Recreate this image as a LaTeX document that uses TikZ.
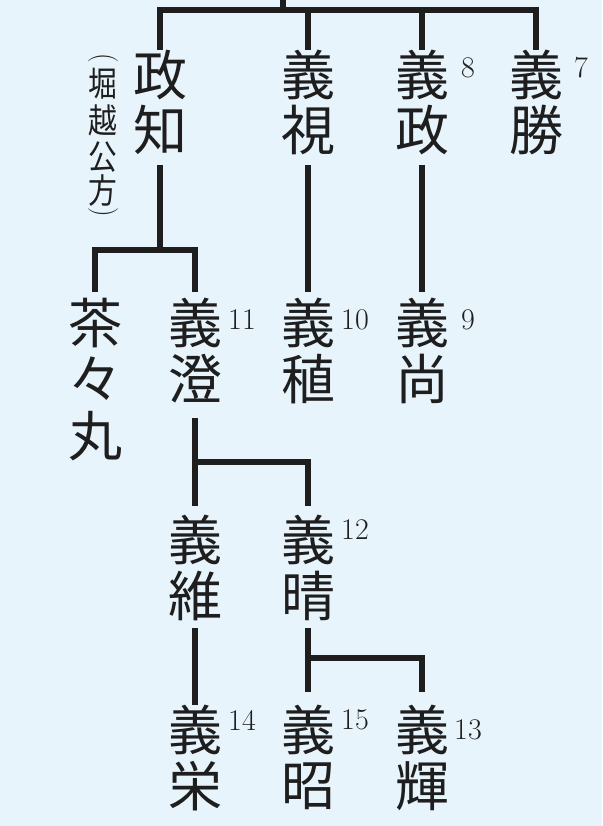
\documentclass[tikz,border=0pt]{standalone}
\usepackage{fontspec}
\newfontfamily\jp{Noto Sans CJK JP}
\definecolor{bg}{HTML}{E8F4FC}
\definecolor{ln}{HTML}{1E1E1E}
\begin{document}
\begin{tikzpicture}[x=1pt,y=-1pt,
  ch/.style={font=\jp\fontsize{54}{54}\selectfont,text=ln,inner sep=0pt},
  sm/.style={font=\jp\fontsize{36}{36}\selectfont,text=ln,inner sep=0pt,xscale=0.8,yscale=0.95,transform shape},
  pr/.style={font=\fontsize{30}{30}\selectfont,text=ln,inner sep=0pt,rotate=-90,xscale=0.9,transform shape},
  num/.style={font=\fontsize{30}{30}\selectfont,text=ln,inner sep=0pt},
  tree/.style={draw=ln,line width=6pt}]
\fill[bg] (0,0) rectangle (602,826);
\useasboundingbox (0,0) rectangle (602,826);
% top row
\coordinate (top) at (283,0);
\coordinate (h1) at (283,10);
\draw[tree] (top) -- (h1);
\draw[tree] (157,10) -- (539,10);
\node[ch] (a1) at (160,75) {政}; \node[ch] (a2) at (160,130) {知};
\node[ch] (b1) at (308,75) {義}; \node[ch] (b2) at (308,130) {視};
\node[ch] (c1) at (422,75) {義}; \node[ch] (c2) at (422,130) {政};
\node[ch] (d1) at (536,75) {義}; \node[ch] (d2) at (536,130) {勝};
\node[num] at (468,68) {8};
\node[num] at (581,68) {7};
\draw[tree] (160,7) -- (a1.north);
\draw[tree] (308,7) -- (b1.north);
\draw[tree] (422,7) -- (c1.north);
\draw[tree] (536,7) -- (d1.north);
% 堀越公方
\node[pr] (p1) at (103,58) {(};
\node[sm] (p2) at (103,84) {堀};
\node[sm] (p3) at (103,120) {越};
\node[sm] (p4) at (103,157) {公};
\node[sm] (p5) at (103,191) {方};
\node[pr] (p6) at (103,212) {)};
% row 2
\node[ch] (e1) at (95,323) {茶}; \node[ch] (e2) at (95,379) {々}; \node[ch] (e3) at (95,436) {丸};
\node[ch] (f1) at (195,323) {義}; \node[ch] (f2) at (195,379) {澄};
\node[ch] (g1) at (308,323) {義}; \node[ch] (g2) at (308,379) {稙};
\node[ch] (h1n) at (422,323) {義}; \node[ch] (h2) at (422,379) {尚};
\node[num] at (242,320) {11};
\node[num] at (355,320) {10};
\node[num] at (468,320) {9};
\draw[tree] (160,165) -- (160,250);
\draw[tree] (92,250) -- (198,250);
\draw[tree] (95,247) -- (95,292);
\draw[tree] (195,247) -- (195,292);
\draw[tree] (308,165) -- (308,292);
\draw[tree] (422,165) -- (422,292);
% row 3
\node[ch] (i1) at (195,540) {義}; \node[ch] (i2) at (195,596) {維};
\node[ch] (j1) at (308,540) {義}; \node[ch] (j2) at (308,596) {晴};
\node[num] at (355,530) {12};
\draw[tree] (195,418) -- (195,506);
\draw[tree] (195,462) -- (311,462);
\draw[tree] (308,459) -- (308,506);
% row 4
\node[ch] (k1) at (195,730) {義}; \node[ch] (k2) at (195,786) {栄};
\node[ch] (l1) at (308,730) {義}; \node[ch] (l2) at (308,786) {昭};
\node[ch] (m1) at (422,730) {義}; \node[ch] (m2) at (422,786) {輝};
\node[num] at (242,720) {14};
\node[num] at (355,720) {15};
\node[num] at (468,730) {13};
\draw[tree] (195,628) -- (195,705);
\draw[tree] (308,628) -- (308,692);
\draw[tree] (308,658) -- (425,658);
\draw[tree] (422,655) -- (422,692);
\end{tikzpicture}
\end{document}
